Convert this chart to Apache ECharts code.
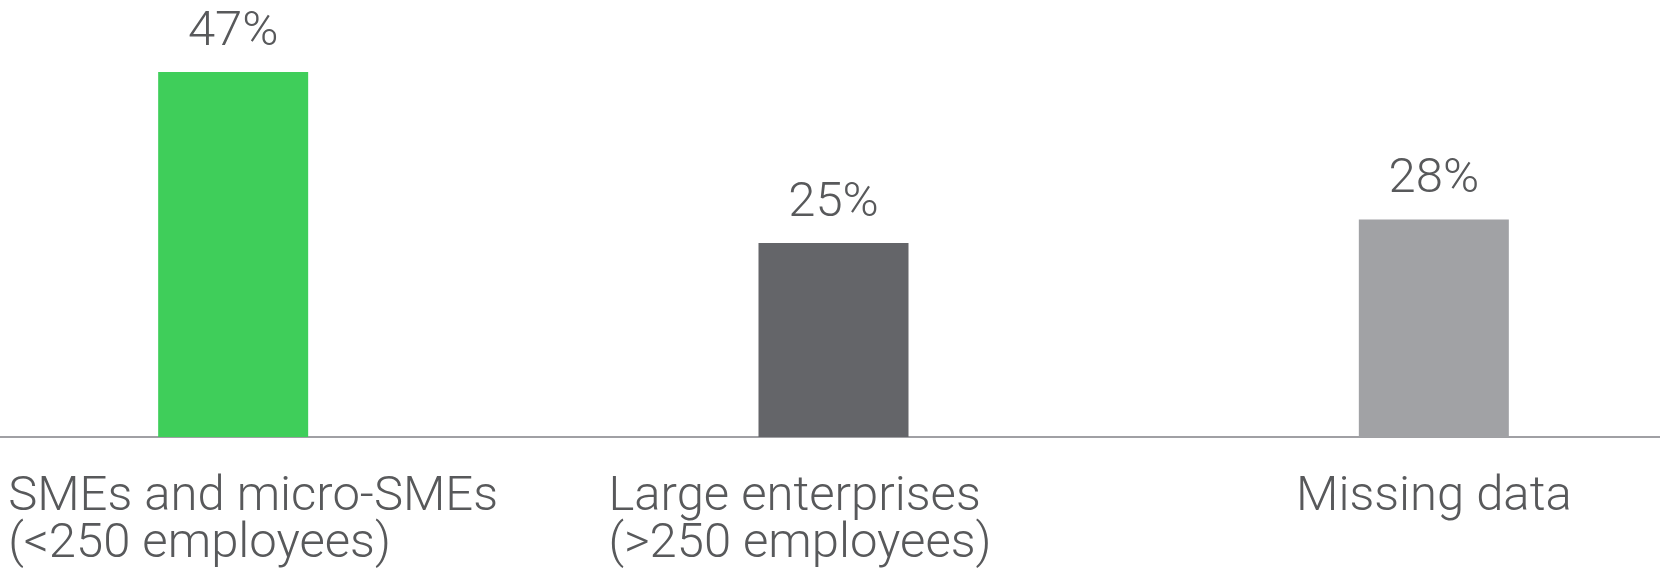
<!DOCTYPE html>
<html>
<head>
<meta charset="utf-8">
<script src="https://cdn.jsdelivr.net/npm/echarts@6/dist/echarts.min.js"></script>
<style>
html,body{margin:0;padding:0;background:#fff;}
#chart{width:1660px;height:569px;}
</style>
</head>
<body>
<div id="chart"></div>
<script>
var categories = ['SMEs and micro-SMEs\n(<250 employees)', 'Large enterprises\n(>250 employees)', 'Missing data'];
var values = [47, 25, 28];
var barColors = ['#3fce5a', '#646569', '#a1a2a5'];
var labelAlign = ['l', 'l', 'c'];

var chart = echarts.init(document.getElementById('chart'), null, {renderer: 'canvas'});
var FONT = 'Roboto, "Liberation Sans", Helvetica, Arial, sans-serif';
var W = 300;
var FS = 49;
var TXT = '#58595b';

chart.setOption({
  animation: false,
  grid: {left: -67, right: -74, top: 41, bottom: 132, containLabel: false, outerBoundsMode: 'none'},
  xAxis: {
    type: 'category',
    data: categories,
    axisLine: {show: true, lineStyle: {color: '#a0a0a4', width: 2}},
    axisTick: {show: false},
    axisLabel: {
      interval: 0,
      margin: 37,
      formatter: function (v, i) {
        var k = labelAlign[i];
        return v.split('\n').map(function (s) { return '{' + k + '|' + s + '}'; }).join('\n');
      },
      rich: {
        l: {width: 450, align: 'left', fontSize: FS, lineHeight: 47, color: TXT, fontFamily: FONT, fontWeight: W},
        c: {align: 'center', fontSize: FS, lineHeight: 47, color: TXT, fontFamily: FONT, fontWeight: W}
      }
    }
  },
  yAxis: {
    type: 'value', min: 0, max: 51, show: false,
    splitLine: {show: false}
  },
  series: [{
    type: 'bar',
    barWidth: 150,
    data: values.map(function (v, i) { return {value: v, itemStyle: {color: barColors[i]}}; }),
    label: {
      show: true, position: 'top', distance: 15,
      formatter: '{c}%',
      fontSize: FS, color: TXT, fontFamily: FONT, fontWeight: W
    }
  }]
});
</script>
</body>
</html>
